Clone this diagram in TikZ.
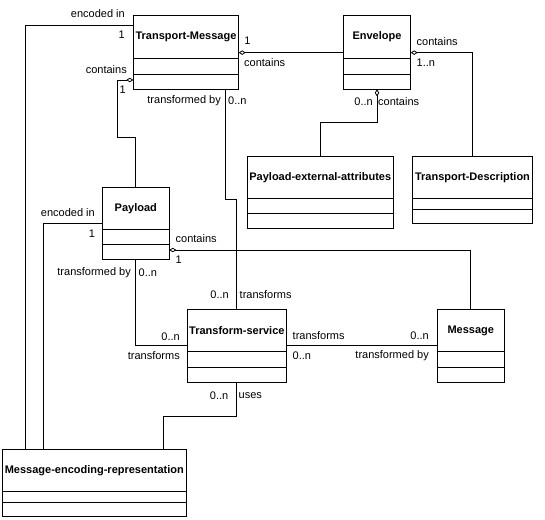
\documentclass[tikz,border=0pt]{standalone}
\usepackage{fontspec}
\setmainfont{Liberation Sans}
\usetikzlibrary{arrows.meta}
\tikzset{
  classbox/.style={draw, line width=1pt, inner sep=0pt, outer sep=0pt},
  classtitle/.style={font=\fontsize{11}{13}\selectfont\bfseries, inner sep=0pt},
  comp/.style={line width=1pt},
  assoc/.style={line width=1pt},
  agg/.style={assoc, {Diamond[open,length=7pt,width=4.5pt,line width=0.8pt]}-},
  lbl/.style={inner sep=0pt, font=\fontsize{11}{13}\selectfont},
}
\newcommand\umlclass[8]{%
  \node[classbox, minimum width={#4pt-#2pt}, minimum height={#5pt-#3pt}] (#1) at ({(#2+#4)/2},{(#3+#5)/2}) {};
  \node[classtitle] (#1-t) at ({(#2+#4)/2},{(#3+#6)/2}) {#8};
  \draw[comp] (#2,#6) -- (#4,#6) (#2,#7) -- (#4,#7);
}
\begin{document}
\begin{tikzpicture}[x=1pt,y=-1pt]
\useasboundingbox[fill=white] (0,0) rectangle (545,519);

\umlclass{tm}{133.3}{16}{238.7}{89.3}{58.3}{74.7}{Transport-Message}
\umlclass{env}{343.3}{16}{410.7}{89.3}{58.3}{74.7}{Envelope}
\umlclass{pl}{102.3}{187.3}{169.3}{259}{229.3}{244.3}{Payload}
\umlclass{pea}{247.3}{156}{393.3}{228.3}{198.7}{213.7}{Payload-external-attributes}
\umlclass{td}{412.7}{156}{532.3}{223.3}{198.7}{209.7}{Transport-Description}
\umlclass{ts}{187.7}{309.3}{286}{382.3}{351.7}{367.3}{Transform-service}
\umlclass{msg}{437.3}{309.3}{504.3}{382.3}{351.7}{367.3}{Message}
\umlclass{mer}{2.7}{449}{186}{516.7}{491.7}{502.7}{Message-encoding-representation}

% connectors
\draw[assoc] ([yshift=-9.7pt]tm.north west) -| ([xshift=23pt]mer.north west);
\draw[agg] ([yshift=-64pt]tm.north west) -- ++(-16,0) |- ([yshift=50pt]pl.north) -- (pl.north);
\draw[agg] (tm.east) -- (env.west);
\draw[agg] (env.east) -| (td.north);
\draw[agg] (env.south) |- ([yshift=33.7pt]pea.north) -- (pea.north);
\draw[assoc] ([xshift=-13pt]tm.south east) |- ([yshift=110pt]ts.north) -- (ts.north);
\draw[agg] ([yshift=9pt]pl.south east) -| (msg.north);
\draw[assoc] (pl.south) |- (ts.west);
\draw[assoc] (ts.east) -- (msg.west);
\draw[assoc] (ts.south) |- ([xshift=160.6pt,yshift=33pt]mer.north west) -- ([xshift=160.6pt]mer.north west);
\draw[assoc] ([yshift=-36pt]pl.north west) -| ([xshift=40.6pt]mer.north west);

% labels
\node[lbl, anchor=east] (a1) at (125,14) {encoded in};
\node[lbl, anchor=east] (a2) at (125,34.5) {1};
\node[lbl, anchor=east] (b1) at (127,70) {contains};
\node[lbl] (b2) at (122.7,90) {1};
\node[lbl] (c1) at (247.5,41) {1};
\node[lbl, anchor=west] (c2) at (244,62.3) {contains};
\node[lbl, anchor=west] (d1) at (416.5,41.7) {contains};
\node[lbl, anchor=west] (d2) at (416.5,62.3) {1..n};
\node[lbl, anchor=east] (e1) at (373,101.7) {0..n};
\node[lbl, anchor=west] (e2) at (378,101.7) {contains};
\node[lbl, anchor=east] (f1) at (221,101) {transformed by};
\node[lbl, anchor=west] (f2) at (228,101) {0..n};
\node[lbl, anchor=east] (f3) at (229,295) {0..n};
\node[lbl, anchor=west] (f4) at (239.5,295) {transforms};
\node[lbl, anchor=west] (g1) at (175.5,239) {contains};
\node[lbl] (g2) at (178.7,260) {1};
\node[lbl, anchor=east] (h1) at (131,272.7) {transformed by};
\node[lbl, anchor=west] (h2) at (138.5,272.7) {0..n};
\node[lbl, anchor=east] (h3) at (180,336.7) {0..n};
\node[lbl, anchor=east] (h4) at (180,355.7) {transforms};
\node[lbl, anchor=west] (i1) at (292.5,336) {transforms};
\node[lbl, anchor=west] (i2) at (292.5,355.7) {0..n};
\node[lbl, anchor=east] (i3) at (429,336) {0..n};
\node[lbl, anchor=east] (i4) at (429,355.7) {transformed by};
\node[lbl, anchor=east] (j1) at (228.5,395.3) {0..n};
\node[lbl, anchor=west] (j2) at (238.5,395.3) {uses};
\node[lbl, anchor=east] (k1) at (95,212.5) {encoded in};
\node[lbl] (k2) at (92,233.3) {1};
\end{tikzpicture}
\end{document}
